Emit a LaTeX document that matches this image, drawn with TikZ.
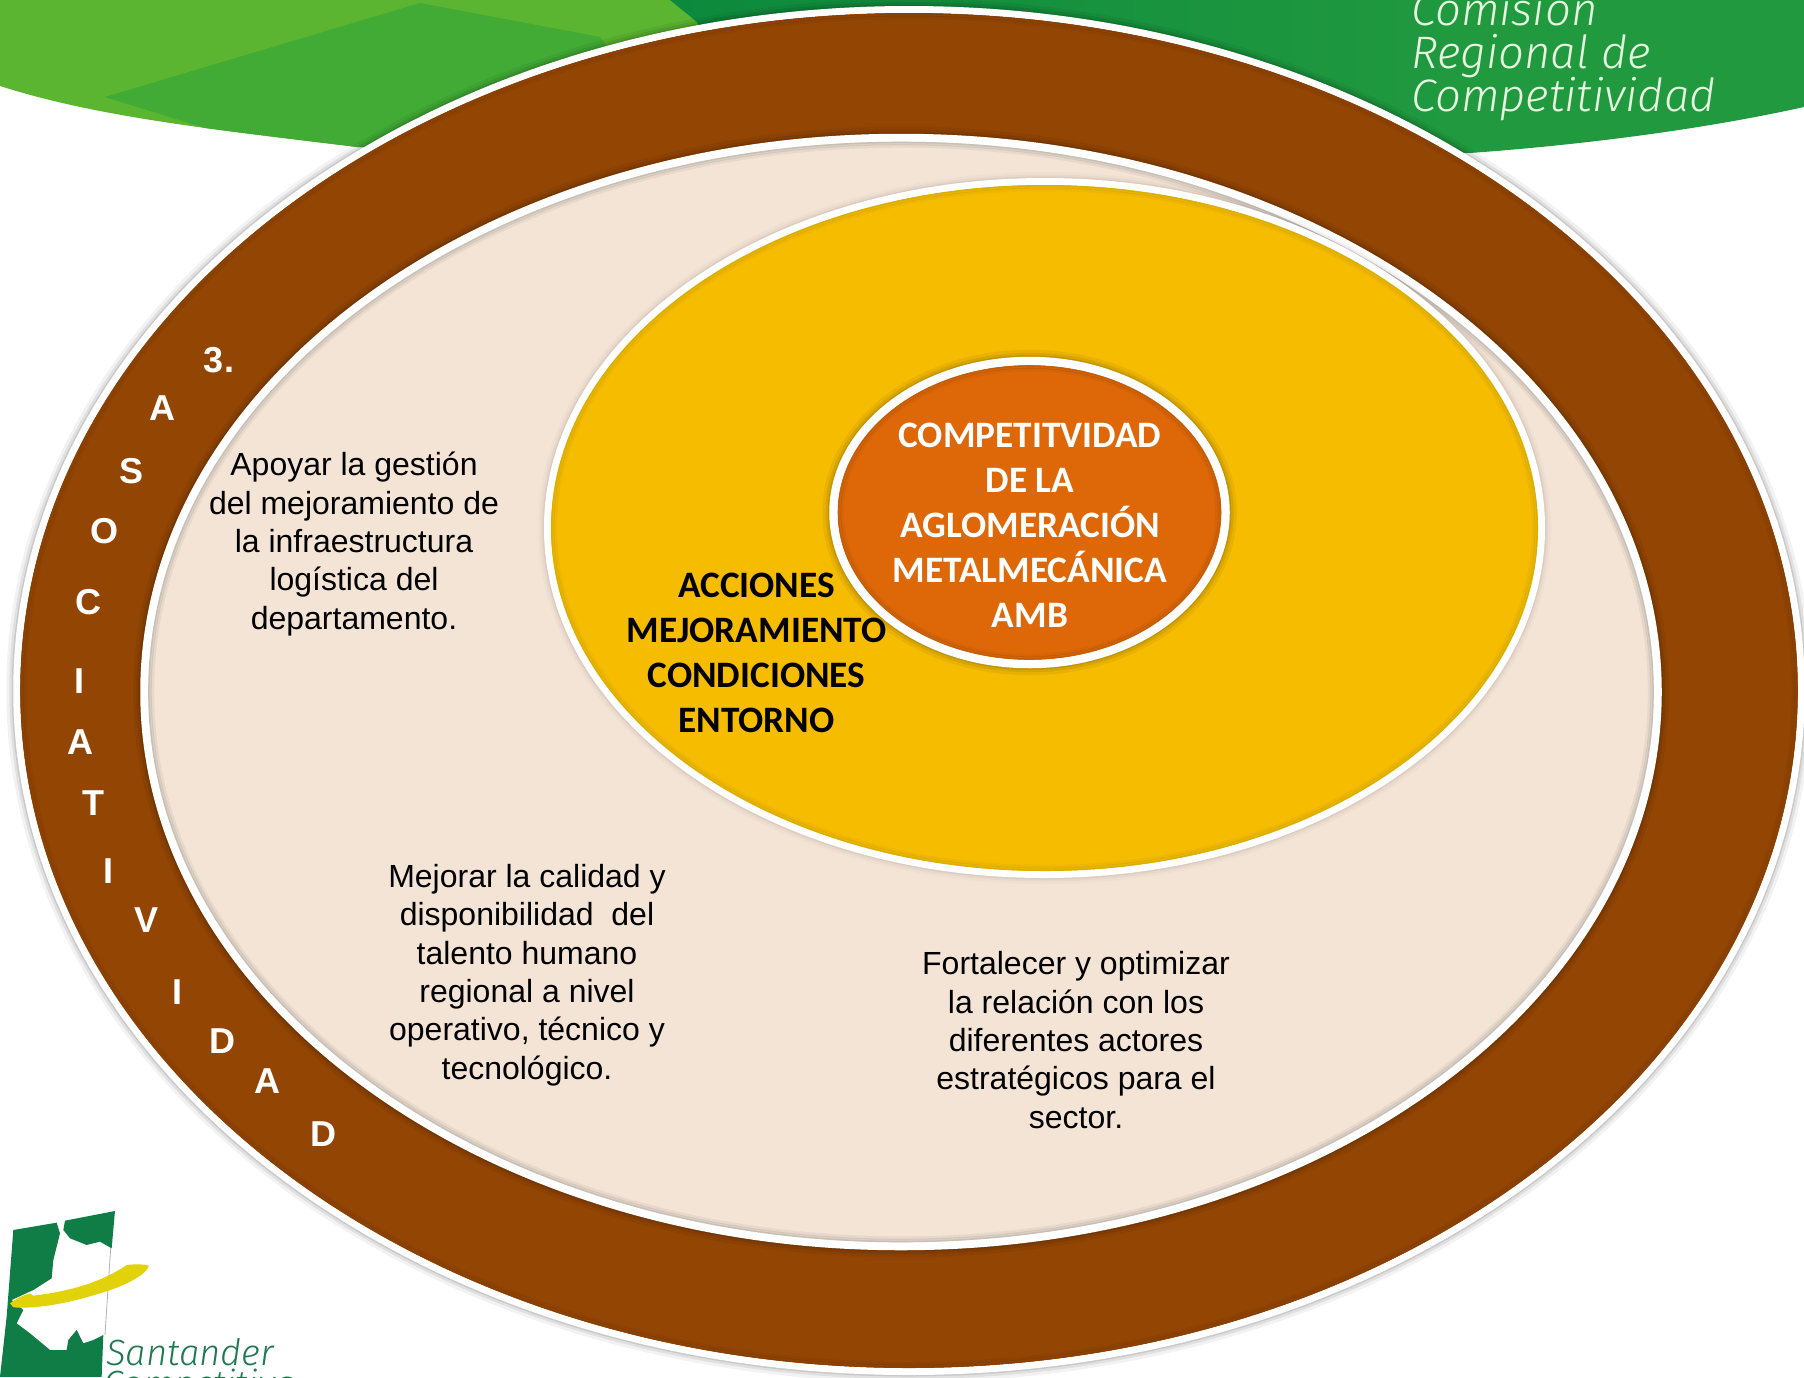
\documentclass[tikz,border=0pt]{standalone}
\usepackage{fontspec}
\setmainfont{Liberation Sans}
\newfontfamily\calib{Carlito}
\newfontfamily\logofont{Fira Sans Light}
\usetikzlibrary{shapes.geometric}
\definecolor{brownring}{HTML}{934503}
\definecolor{brownhi}{HTML}{A44E05}
\definecolor{tanring}{HTML}{F4E4D6}
\definecolor{tanhi}{HTML}{FBF3E6}
\definecolor{yellowring}{HTML}{F6BC00}
\definecolor{yellowhi}{HTML}{FFCC00}
\definecolor{orangering}{HTML}{DE6808}
\definecolor{orangehi}{HTML}{F87508}
\definecolor{lightgreen}{HTML}{5BB531}
\definecolor{midgreen}{HTML}{41AB35}
\definecolor{darkgreenA}{HTML}{0D893D}
\definecolor{darkgreenB}{HTML}{219A3F}
\definecolor{logogreen}{HTML}{0F7D45}
\definecolor{logotext}{HTML}{1F7A52}
\definecolor{logoyellow}{HTML}{E2D20A}
\definecolor{palegreen}{HTML}{E6F8E0}
\tikzset{
  ring/.style={ellipse,inner sep=0pt,outer sep=0pt,draw=white,line width=#1,
    preaction={draw=black,draw opacity=.05,line width=#1+14pt,yshift=-3pt},
    preaction={draw=black,draw opacity=.07,line width=#1+8pt,yshift=-3pt},
    preaction={draw=black,draw opacity=.10,line width=#1+3pt,yshift=-3pt}},
  softring/.style={ellipse,inner sep=0pt,outer sep=0pt,draw=white,line width=#1,
    preaction={draw=black,draw opacity=.02,line width=#1+12pt,yshift=-3pt},
    preaction={draw=black,draw opacity=.03,line width=#1+7pt,yshift=-3pt},
    preaction={draw=black,draw opacity=.05,line width=#1+3pt,yshift=-3pt}},
  body/.style={align=center,text=black,inner sep=0pt,font=\fontsize{32}{38.4}\selectfont},
  head/.style={align=center,inner sep=0pt,font=\calib\bfseries\fontsize{37.3}{45}\selectfont},
  letter/.style={text=white,inner sep=0pt,font=\bfseries\fontsize{36}{40}\selectfont},
  bandtext/.style={anchor=base west,inner sep=0pt,text=palegreen,font=\logofont\itshape\fontsize{45.5}{47}\selectfont},
  logotitle/.style={anchor=base west,inner sep=0pt,text=logotext,font=\logofont\itshape\fontsize{36.5}{37}\selectfont},
}
% bevel: lit top rim and dark bottom rim inside a ring
\newcommand{\bevelring}[6]{%
  \begin{scope}
  \clip (#1.center) ellipse [x radius=#2pt,y radius=#3pt];
  \draw[#4,opacity=.8,line width=5pt,yshift=-2.5pt] (#1.center) ellipse [x radius=#2pt,y radius=#3pt];
  \draw[black,opacity=#6,line width=3pt,yshift=2pt] (#1.center) ellipse [x radius=#2pt,y radius=#3pt];
  \draw[black,opacity=#6,line width=7pt,yshift=2.5pt] (#1.center) ellipse [x radius=#2pt,y radius=#3pt];
  \draw[black,opacity=#5,line width=12pt,yshift=3pt] (#1.center) ellipse [x radius=#2pt,y radius=#3pt];
  \end{scope}}
\begin{document}
\begin{tikzpicture}[x=1pt,y=-1pt]
\useasboundingbox (0,0) rectangle (1804,1377);
\clip (0,0) rectangle (1804,1377);
\fill[white] (0,0) rectangle (1804,1377);
% green band
\begin{scope}
\clip (0,0) -- (1804,0) -- (1804,107) .. controls (1700,130) and (1580,145) .. (1470,153)
  -- (357,147) .. controls (220,130) and (100,118) .. (0,86) -- cycle;
\fill[lightgreen] (0,0) rectangle (800,170);
\fill[midgreen] (105,97) -- (420,3) -- (600,37) -- (700,170) -- (340,170) -- cycle;
\shade[left color=darkgreenA,right color=darkgreenB] (670,0) -- (1500,0) -- (1500,170) -- (760,170) -- (697,22) -- cycle;
\fill[darkgreenB] (1499,0) rectangle (1804,170);
\end{scope}
\node[bandtext] (t1) at (1411,25) {Comisión};
\node[bandtext] (t2) at (1411,68) {Regional de};
\node[bandtext] (t3) at (1411,111) {Competitividad};
% logo
\begin{scope}[shift={(0,1150)},x=0.3333pt,y=-0.3333pt]
\fill[logogreen] (40,240) -- (170,218) -- (180,250) -- (160,330) -- (155,385) -- (100,420) -- (35,450) -- (70,480) -- (50,520) -- (90,550) -- (150,600) -- (200,600) -- (205,570) -- (230,540) -- (250,580) -- (280,570) -- (310,555) -- (305,681) -- (0,681) -- (20,500) -- cycle;
\fill[logogreen] (195,212) -- (345,183) -- (335,295) -- (300,275) -- (260,285) -- (210,265) -- (190,240) -- cycle;
\draw[gray!60,line width=0.8pt] (332,295) -- (315,555);
\fill[logoyellow] (30,460) .. controls (50,445) and (70,435) .. (90,430) -- (100,437) .. controls (200,425) and (300,400) .. (380,345) .. controls (410,342) and (430,342) .. (447,347) .. controls (440,375) and (370,410) .. (300,430) .. controls (220,455) and (120,478) .. (40,472) -- cycle;
\end{scope}
\node[logotitle] (s1) at (106,1365) {Santander};
\node[logotitle] (s2) at (103,1396) {Competitiva};
% rings
\node[ring=7pt,fill=brownring,minimum width=1784.5pt,minimum height=1362pt] (outer) at (909,690.5) {};
\bevelring{outer}{888.8}{677.5}{brownhi}{.04}{.06}
\node[ring=8pt,fill=tanring,minimum width=1513.5pt,minimum height=1108.5pt] (second) at (901,692) {};
\bevelring{second}{752.8}{550.3}{tanhi}{.05}{.08}
\node[softring=7pt,fill=yellowring,minimum width=994pt,minimum height=693pt] (third) at (1044.5,528) {};
\bevelring{third}{493.5}{343}{yellowhi}{.03}{.05}
\node[ring=8.5pt,fill=orangering,minimum width=392pt,minimum height=303pt] (inner) at (1029.5,512.5) {};
\bevelring{inner}{191.8}{147.3}{orangehi}{.04}{.08}
% labels
\node[head,text=white] (core) at (1030,525) {COMPETITVIDAD\\DE LA\\AGLOMERACIÓN\\METALMECÁNICA\\AMB};
\node[head,text=black] (acc) at (756.5,653) {ACCIONES\\MEJORAMIENTO\\CONDICIONES\\ENTORNO};
\node[body] (b1) at (354,544) {Apoyar la gestión\\del mejoramiento de\\la infraestructura\\logística del\\departamento.};
\node[body] (b2) at (527,975) {Mejorar la calidad y\\disponibilidad\ \ del\\talento humano\\regional a nivel\\operativo, técnico y\\tecnológico.};
\node[body] (b3) at (1076,1040) {Fortalecer y optimizar\\la relación con los\\diferentes actores\\estratégicos para el\\sector.};
% vertical word
\node[letter] (l0) at (219,360) {3.};
\node[letter] (l1) at (162.5,408) {A};
\node[letter] (l2) at (132,471) {S};
\node[letter] (l3) at (104,531) {O};
\node[letter] (l4) at (88,602) {C};
\node[letter] (l5) at (79.5,681) {I};
\node[letter] (l6) at (80,742) {A};
\node[letter] (l7) at (93.5,803) {T};
\node[letter] (l8) at (108.5,871) {I};
\node[letter] (l9) at (147,920) {V};
\node[letter] (l10) at (177.5,992) {I};
\node[letter] (l11) at (222,1041) {D};
\node[letter] (l12) at (267.5,1081) {A};
\node[letter] (l13) at (323,1134) {D};
\end{tikzpicture}
\end{document}
